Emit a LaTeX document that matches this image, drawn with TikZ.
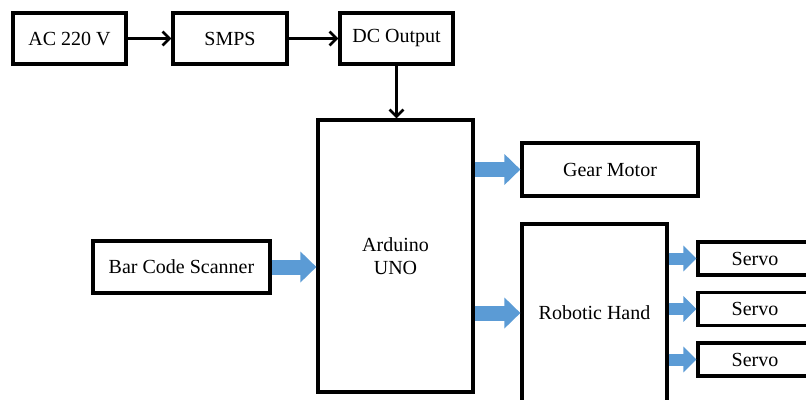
\documentclass[tikz,border=0pt]{standalone}
\usepackage{fontspec}
\setmainfont{Liberation Serif}
\usetikzlibrary{arrows.meta}

\definecolor{flowblue}{HTML}{5B9BD5}

\tikzset{
  block/.style={draw, line width=3.2pt, align=center, inner sep=0pt,
    font=\fontsize{20}{23}\selectfont},
  link/.style={line width=2.6pt, -{Straight Barb[length=7pt,width=14pt]}},
  flow/.style={flowblue, line width=15pt,
    -{Triangle[length=16pt,width=30pt]}},
  smallflow/.style={flowblue, line width=12pt,
    -{Triangle[length=13pt,width=25pt]}}
}

\begin{document}
\begin{tikzpicture}[x=1pt,y=-1pt]
  \useasboundingbox (0,0) rectangle (806,399);
  \clip (0,0) rectangle (806,399);
  % supply chain
  \node[block, minimum width=113pt, minimum height=51pt] (ac) at (69.5,38.5) {AC 220 V};
  \node[block, minimum width=114pt, minimum height=51pt] (smps) at (230,38.5) {SMPS};
  \node[block, minimum width=113pt, minimum height=51pt] (dc) at (396.5,38.5) {DC Output};
  % controller and peripherals
  \node[block, minimum width=155pt, minimum height=272pt] (uno) at (395.5,256) {Arduino\\UNO};
  \node[block, minimum width=177pt, minimum height=52pt] (scan) at (181.5,267) {Bar Code Scanner};
  \node[block, minimum width=176pt, minimum height=53pt] (gear) at (610,169.5) {Gear Motor};
  \node[block, minimum width=145pt, minimum height=178pt] (hand) at (594.5,313) {Robotic Hand};
  \node[block, minimum width=114pt, minimum height=33pt] (servoa) at (755,258.5) {Servo};
  \node[block, minimum width=114pt, minimum height=33pt] (servob) at (755,309) {Servo};
  \node[block, minimum width=114pt, minimum height=33pt] (servoc) at (755,359.5) {Servo};
  % power arrows
  \draw[link] (ac) -- (smps);
  \draw[link] (smps) -- (dc);
  \draw[link] (dc) -- (dc |- uno.north);
  % signal arrows
  \draw[flow] (scan.east) -- (uno.west |- scan.east);
  \draw[flow] (uno.east |- gear.west) -- (gear.west);
  \draw[flow] (uno.east |- hand) -- (hand.west);
  \draw[smallflow] (hand.east |- servoa) -- (servoa.west);
  \draw[smallflow] (hand.east |- servob) -- (servob.west);
  \draw[smallflow] (hand.east |- servoc) -- (servoc.west);
\end{tikzpicture}
\end{document}
